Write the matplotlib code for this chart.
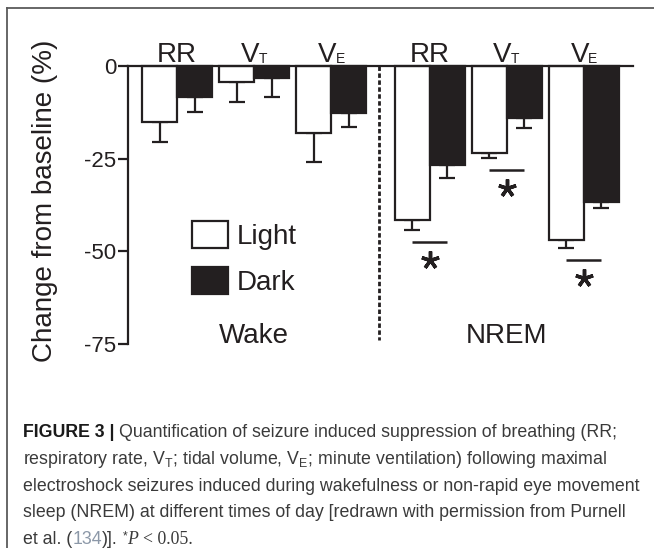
import matplotlib
matplotlib.use('Agg')
import matplotlib.pyplot as plt
from matplotlib.lines import Line2D

# ── data ─────────────────────────────────────────────────────────────
states = ['Wake', 'NREM']
measures = ['RR', 'V', 'V']
measure_subs = ['', 'T', 'E']

wake_light = [-15.1, -4.3, -18.0]
wake_light_err = [5.4, 5.4, 7.9]
wake_dark = [-8.4, -3.2, -12.7]
wake_dark_err = [4.0, 5.2, 3.7]

nrem_light = [-41.5, -23.5, -46.9]
nrem_light_err = [2.7, 1.3, 2.1]
nrem_dark = [-26.7, -14.0, -36.7]
nrem_dark_err = [3.5, 2.7, 1.6]

nrem_sig_y = [-47.4, -28.0, -52.3]   # significance bars (P < 0.05)

yticks = [0, -25, -50, -75]
ytick_labels = ['0', '-25', '-50', '-75']

# ── style ────────────────────────────────────────────────────────────
K = '#231f20'
plt.rcParams['font.family'] = ['Liberation Sans', 'DejaVu Sans']
plt.rcParams['mathtext.fontset'] = 'custom'
plt.rcParams['mathtext.rm'] = 'Liberation Sans'
plt.rcParams['axes.unicode_minus'] = False

W, H = 654, 548
fig = plt.figure(figsize=(W / 100, H / 100), dpi=100)
fig.patch.set_facecolor('white')

ax = fig.add_axes([128 / W, 1 - 344 / H, (633 - 128) / W, (344 - 66) / H])
ax.set_xlim(0, 14.4)
ax.set_ylim(-75, 0)

for s in ('top', 'right', 'bottom'):
    ax.spines[s].set_visible(False)
ax.spines['left'].set_linewidth(1.6)
ax.spines['left'].set_color(K)
ax.set_xticks([])
ax.set_yticks(yticks)
ax.set_yticklabels(ytick_labels)
ax.tick_params(axis='y', length=7, width=1.6, color=K, labelcolor=K,
               labelsize=16, pad=1.5)
ax.axhline(0, color=K, lw=1.6, clip_on=False, zorder=4)

bw = 1.0
step = 2.2
starts = {'Wake': 1.4, 'NREM': 8.6}
vals = {'Wake': (wake_light, wake_light_err, wake_dark, wake_dark_err),
        'NREM': (nrem_light, nrem_light_err, nrem_dark, nrem_dark_err)}

ekw = dict(fmt='none', ecolor=K, elinewidth=1.6, capsize=6, capthick=1.6,
           zorder=2)
for st in states:
    light, light_e, dark, dark_e = vals[st]
    centers = [starts[st] + step * i for i in range(len(measures))]
    xl = [c - bw / 2 for c in centers]
    xd = [c + bw / 2 for c in centers]
    hl = ax.bar(xl, light, width=bw, color='white', edgecolor=K,
                linewidth=1.6, zorder=3, clip_on=False)
    hd = ax.bar(xd, dark, width=bw, color=K, edgecolor=K,
                linewidth=1.6, zorder=3, clip_on=False)
    ax.errorbar(xl, light, yerr=[light_e, [0] * len(light)], **ekw)
    ax.errorbar(xd, dark, yerr=[dark_e, [0] * len(dark)], **ekw)
    for c, m, sub in zip(centers, measures, measure_subs):
        if sub:
            ax.text(c - 0.12, 1.1, m, ha='center', va='baseline',
                    fontsize=20, color=K, clip_on=False)
            ax.annotate(sub, (c - 0.12, 1.1), xytext=(6.0, -0.5),
                        textcoords='offset points', ha='left',
                        va='baseline', fontsize=10, color=K,
                        annotation_clip=False)
        else:
            ax.text(c, 1.1, m, ha='center', va='baseline', fontsize=20,
                    color=K, clip_on=False)
    ax.text(centers[1], -74.6, st, ha='center', va='baseline',
            fontsize=20, color=K)
    if st == 'NREM':
        for c, y in zip(centers, nrem_sig_y):
            ax.plot([c - bw / 2, c + bw / 2], [y, y], color=K, lw=1.8,
                    solid_capstyle='butt')
            ax.plot(c, y - 4.9, marker=(5, 2, 0), ms=13, mew=2.5,
                    color=K, linestyle='none')
    light_handle, dark_handle = hl, hd

# dotted divider between wake and NREM
ax.plot([7.17, 7.17], [0, -74], color=K, lw=2.0,
        linestyle=(0, (1.6, 0.9)), clip_on=False)

ax.legend([light_handle, dark_handle], ['Light', 'Dark'],
          loc='upper left', bbox_to_anchor=(192 / W, 1 - 221 / H),
          bbox_transform=fig.transFigure, frameon=False, fontsize=20,
          handlelength=1.3, handleheight=1.1, handletextpad=0.3,
          labelspacing=0.62, borderpad=0, borderaxespad=0, labelcolor=K)

fig.text(45 / W, 1 - 201 / H, 'Change from baseline (%)', rotation=90,
         ha='center', va='center', fontsize=20, color=K)

# frame
fig.add_artist(Line2D([7 / W, 1], [1 - 8 / H, 1 - 8 / H], color='#5a5a5a',
                      lw=1.3, transform=fig.transFigure))
fig.add_artist(Line2D([7 / W, 7 / W], [0, 1 - 8 / H], color='#5a5a5a',
                      lw=1.3, transform=fig.transFigure))

# ── caption ──────────────────────────────────────────────────────────
fig.canvas.draw()
rend = fig.canvas.get_renderer()
CAP = '#3a3a3a'
fs = 12.8
gap = fs * 0.28 * 100 / 72


def put(x, y, s, **kw):
    kw.setdefault('color', CAP)
    kw.setdefault('fontsize', fs)
    t = fig.text(x / W, 1 - y / H, s, va='baseline', **kw)
    return x + t.get_window_extent(renderer=rend).width


x0, y0, lh = 23, 437, 26.8
x = put(x0, y0, 'FIGURE 3 |', fontweight='bold', color='#1a1a1a')
put(x + gap, y0, 'Quantification of seizure induced suppression of breathing (RR;')
put(x0, y0 + lh, r'respiratory rate, V$_\mathregular{T}$; tidal volume, '
    r'V$_\mathregular{E}$; minute ventilation) following maximal')
put(x0, y0 + 2 * lh, 'electroshock seizures induced during wakefulness or '
    'non-rapid eye movement')
put(x0, y0 + 3 * lh, 'sleep (NREM) at different times of day [redrawn with '
    'permission from Purnell')
x = put(x0, y0 + 4 * lh, 'et al. (')
x = put(x, y0 + 4 * lh, '134', color='#8c98a8')
x = put(x, y0 + 4 * lh, ')].')
x = put(x + gap, y0 + 4 * lh - 5, '*', fontsize=fs * 0.7)
x = put(x, y0 + 4 * lh, 'P', family='Liberation Serif', style='italic')
put(x + gap, y0 + 4 * lh, '< 0.05.', family='Liberation Serif')

fig.savefig('out.png', dpi=100)
